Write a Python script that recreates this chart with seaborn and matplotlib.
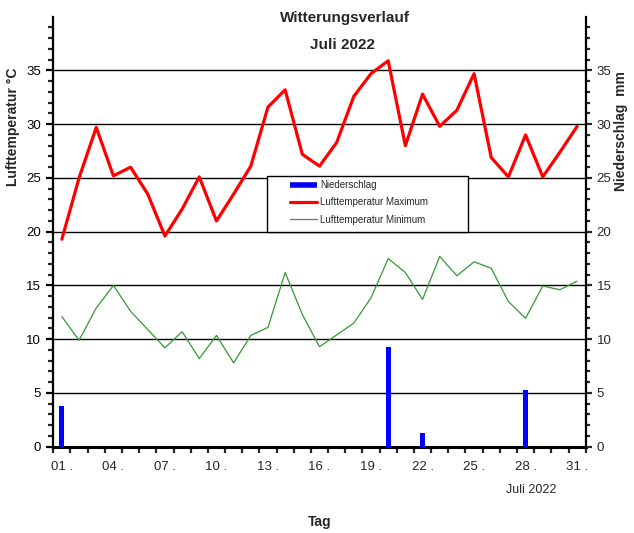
import matplotlib
matplotlib.use("Agg")
import matplotlib.pyplot as plt
from matplotlib.lines import Line2D
from matplotlib.patches import Rectangle
from matplotlib.ticker import FixedLocator
import seaborn as sns

days = list(range(1, 32))
tmax = [19.3, 25.0, 29.7, 25.2, 26.0, 23.5, 19.6, 22.1, 25.1, 21.0, 23.5, 26.1, 31.6, 33.2, 27.2,
        26.1, 28.3, 32.6, 34.7, 35.9, 28.0, 32.8, 29.8, 31.3, 34.7, 26.9, 25.1, 29.0, 25.1, 27.4, 29.8]
tmin = [12.1, 9.9, 12.9, 15.0, 12.6, 10.9, 9.2, 10.7, 8.2, 10.35, 7.8, 10.35, 11.1, 16.2, 12.3,
        9.3, 10.4, 11.5, 13.85, 17.5, 16.2, 13.7, 17.7, 15.9, 17.2, 16.6, 13.5, 11.95, 14.95, 14.6, 15.4]
precip = [3.8, 0, 0, 0, 0, 0, 0, 0, 0, 0, 0, 0, 0, 0, 0,
          0, 0, 0, 0, 9.3, 0, 1.3, 0, 0, 0, 0, 0, 5.3, 0, 0, 0]
xtick_days = list(range(1, 32, 3))
xtick_labels = [f"{d:02d} ." for d in xtick_days]
ytick_vals = [0, 5, 10, 15, 20, 25, 30, 35]

sns.set_style("white")
plt.rcParams['font.family'] = ['Liberation Sans', 'DejaVu Sans']

fig = plt.figure(figsize=(6.34, 5.33), dpi=100)
ax = fig.add_axes([53.3/634, 1-446.7/533, 532.4/634, 430/533])

sns.barplot(x=days, y=precip, native_scale=True, width=0.3, color='#0000ff',
            saturation=1, errorbar=None, ax=ax, zorder=3, linewidth=0)
sns.lineplot(x=days, y=tmin, color='#339933', linewidth=0.9, ax=ax, zorder=4)
sns.lineplot(x=days, y=tmax, color='#ff0000', linewidth=2.3, ax=ax, zorder=5)

ax.set_xlim(0.5, 31.5)
ax.set_ylim(0, 40)
ax.set_xlabel('')
ax.set_ylabel('')

for s in ['top', 'right']:
    ax.spines[s].set_visible(False)
ax.spines['left'].set_linewidth(1.6)
ax.spines['bottom'].set_linewidth(2.2)
for s in ['left', 'bottom']:
    ax.spines[s].set_color('black')

ax.yaxis.set_major_locator(FixedLocator(ytick_vals))
ax.yaxis.set_minor_locator(FixedLocator([v for v in range(1, 40) if v % 5 != 0]))
ax.set_yticklabels([str(v) for v in ytick_vals])
ax.tick_params(axis='y', which='major', direction='out', length=5, width=1.6,
               labelsize=9.5, pad=4, colors='black', left=True)
ax.tick_params(axis='y', which='minor', direction='out', length=3.5, width=1.6, left=True)

ax.xaxis.set_major_locator(FixedLocator(xtick_days))
ax.set_xticklabels(xtick_labels)
ax.xaxis.set_minor_locator(FixedLocator([d + 0.5 for d in range(0, 32)]))
ax.tick_params(axis='x', which='major', length=0, labelsize=9.5, pad=10, bottom=True)
ax.tick_params(axis='x', which='minor', direction='out', length=4, width=1.6, bottom=True)

ax.grid(False)
for v in ytick_vals[1:]:
    ax.axhline(v, color='black', linewidth=1.0, zorder=1)

ax2 = ax.twinx()
ax2.set_ylim(0, 40)
for s in ['top', 'left', 'bottom']:
    ax2.spines[s].set_visible(False)
ax2.spines['right'].set_linewidth(1.6)
ax2.spines['right'].set_color('black')
ax2.yaxis.set_major_locator(FixedLocator(ytick_vals))
ax2.yaxis.set_minor_locator(FixedLocator([v for v in range(1, 40) if v % 5 != 0]))
ax2.set_yticklabels([str(v) for v in ytick_vals])
ax2.tick_params(axis='y', which='major', direction='out', length=4, width=1.6,
                labelsize=9.5, pad=4, right=True)
ax2.tick_params(axis='y', which='minor', direction='out', length=3, width=1.6, right=True)
ax2.grid(False)

# legend box
rect = Rectangle((0.402, 0.5), 0.376, 0.13, transform=ax.transAxes,
                 facecolor='white', edgecolor='black', linewidth=1.0, zorder=10)
ax.add_patch(rect)
handles = [Line2D([], [], color='#0000ff', lw=4, solid_capstyle='butt'),
           Line2D([], [], color='#ff0000', lw=2.3),
           Line2D([], [], color='#339933', lw=0.9)]
labels = ['Niederschlag', 'Lufttemperatur Maximum', 'Lufttemperatur Minimum']
leg = ax.legend(handles, labels, loc='upper left', bbox_to_anchor=(0.4446, 0.62),
                frameon=False, fontsize=7, handlelength=2.8, handletextpad=0.3,
                labelspacing=0.75, borderpad=0, borderaxespad=0)
leg.set_zorder(11)

fig.text(345/634, 1-18/533, 'Witterungsverlauf', ha='center', va='center',
         fontsize=11, fontweight='bold')
fig.text(342/634, 1-45/533, 'Juli 2022', ha='center', va='center',
         fontsize=11, fontweight='bold')
fig.text(531/634, 1-490/533, 'Juli 2022', ha='center', va='center', fontsize=9)
fig.text(320/634, 1-522/533, 'Tag', ha='center', va='center', fontsize=10, fontweight='bold')
fig.text(13/634, 1-186/533, 'Lufttemperatur °C', ha='center', va='bottom', rotation=90,
         fontsize=10, fontweight='bold')
fig.text(621/634, 1-191/533, 'Niederschlag  mm', ha='center', va='bottom', rotation=90,
         fontsize=10, fontweight='bold')

fig.savefig('out.png', dpi=100)
